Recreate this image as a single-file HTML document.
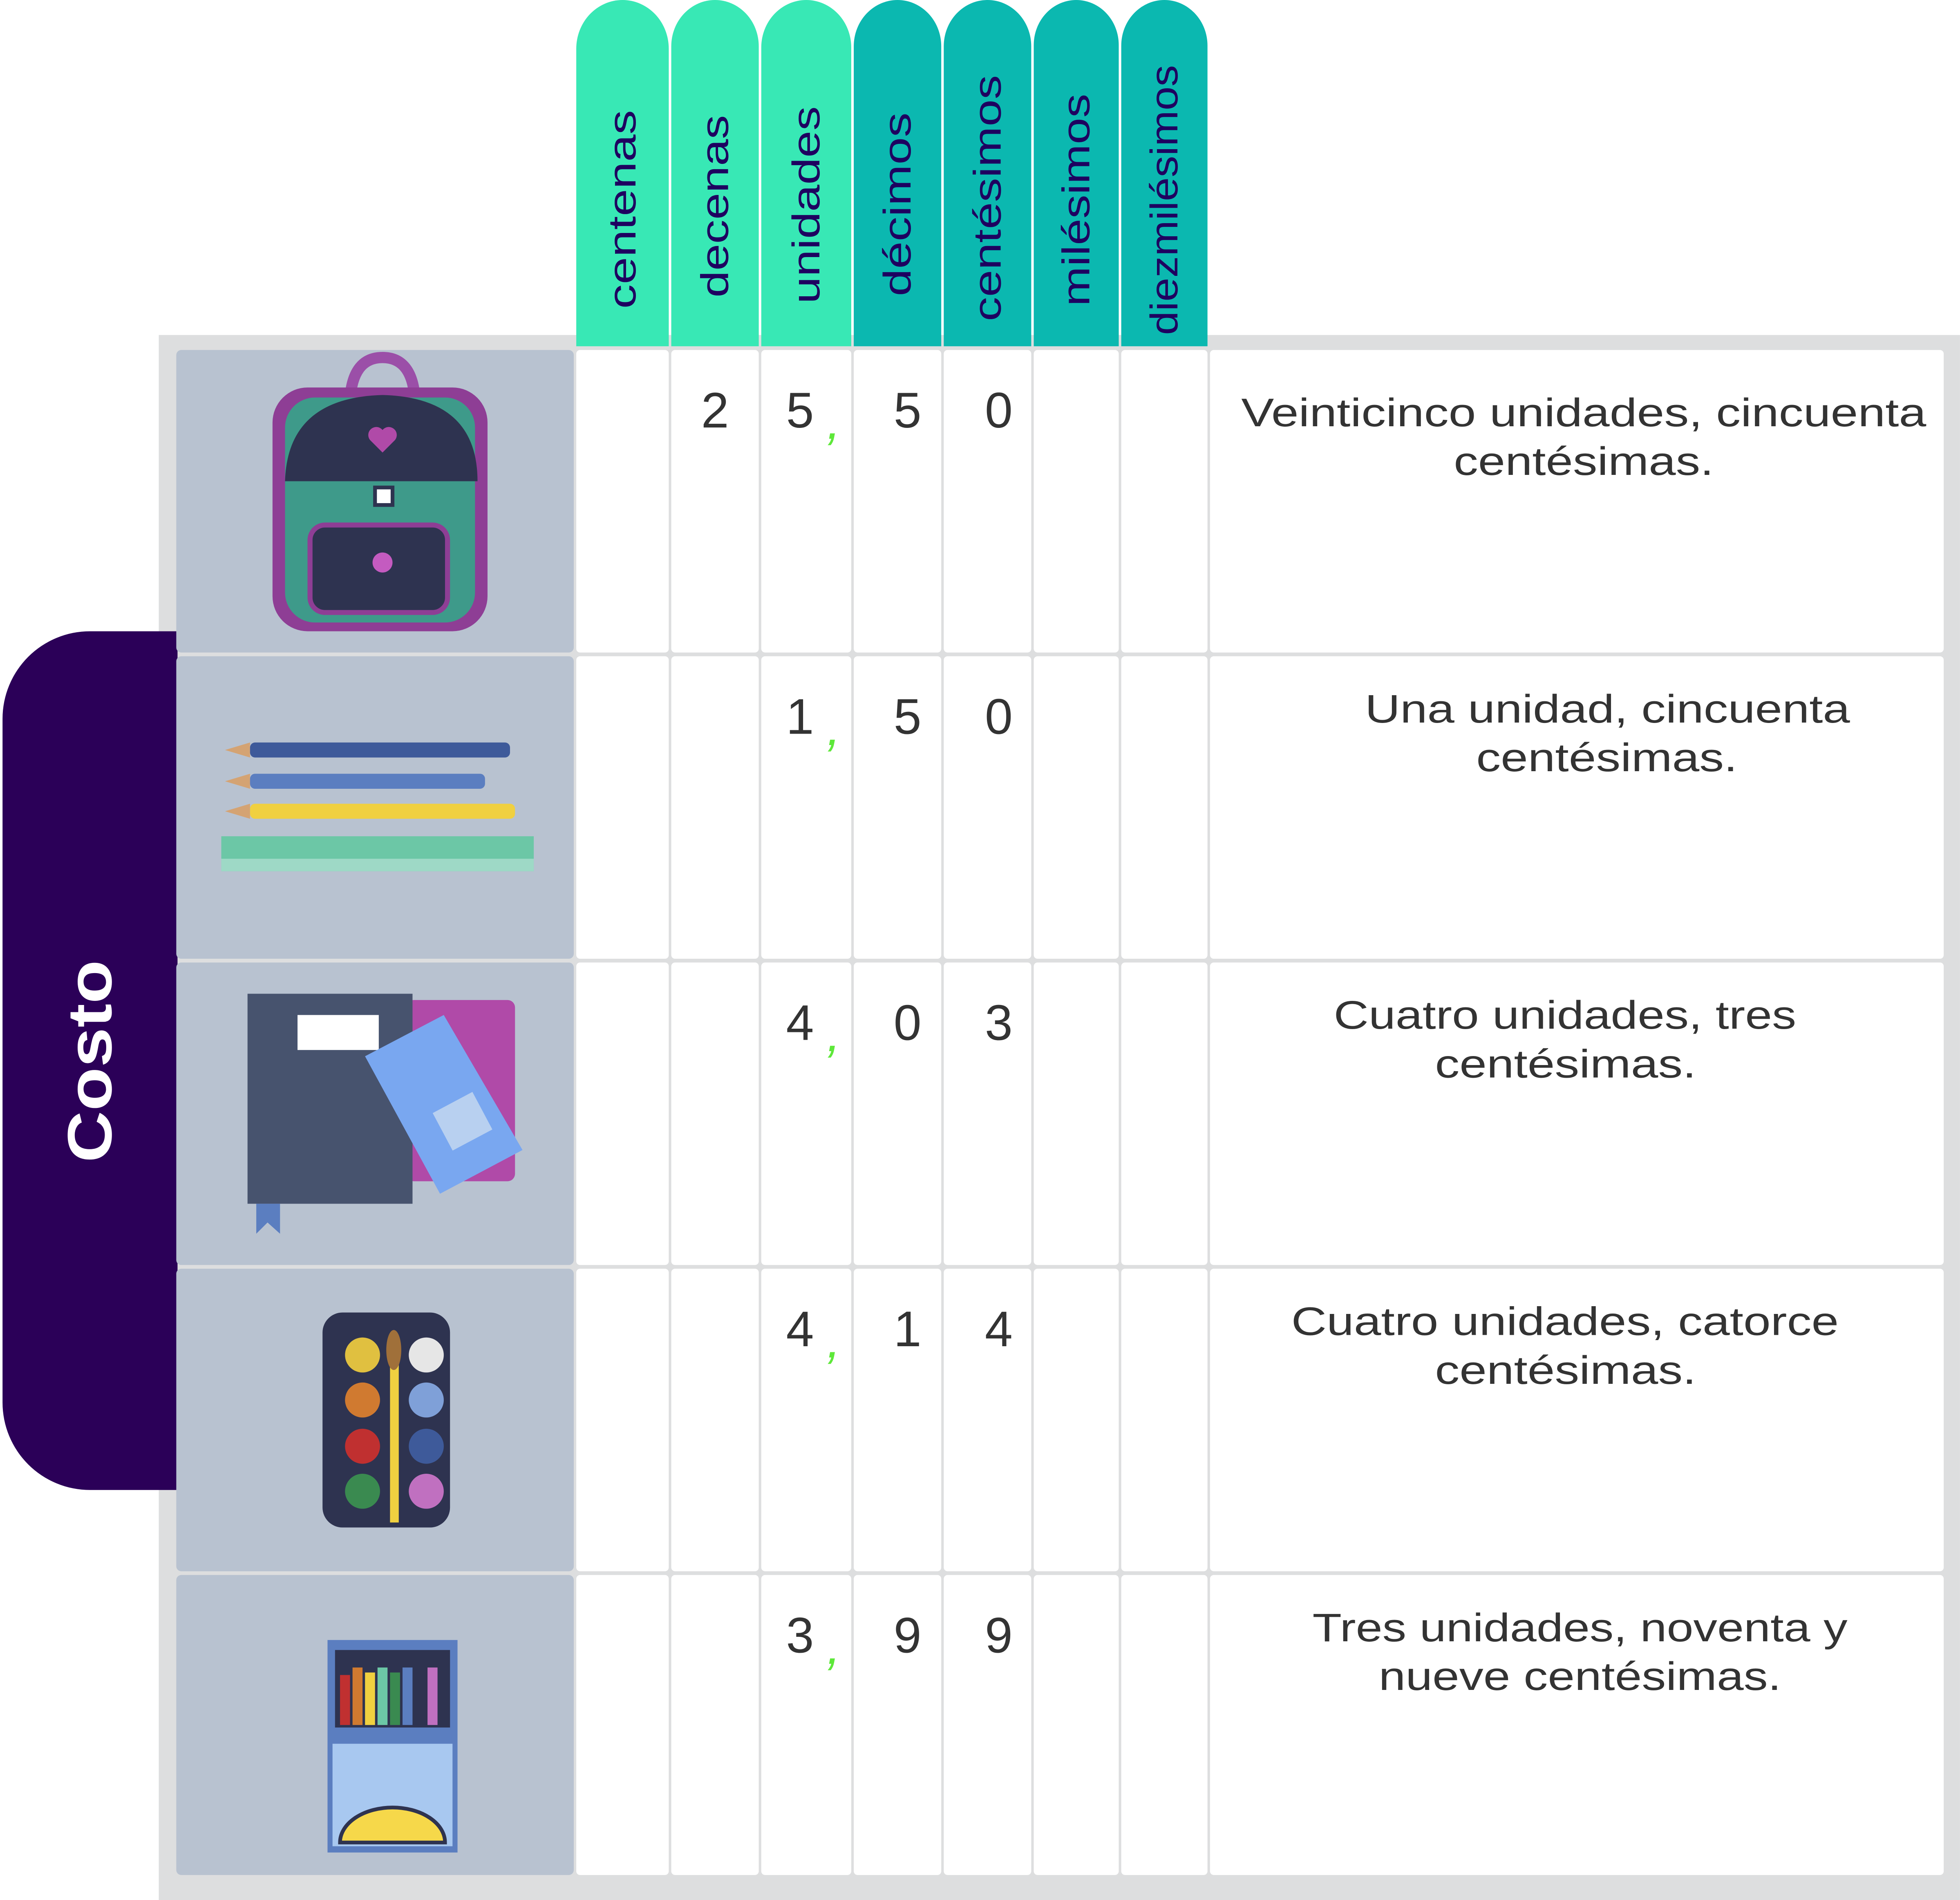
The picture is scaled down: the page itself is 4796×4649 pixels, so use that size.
<!DOCTYPE html>
<html><head><meta charset="utf-8"><style>
html,body{margin:0;padding:0;background:#fff;width:4796px;height:4649px;overflow:hidden}
svg{display:block}
text{font-family:"Liberation Sans","DejaVu Sans",sans-serif}
</style></head><body>
<svg id="s" width="4796" height="4649" viewBox="0 0 1568 1520" xmlns="http://www.w3.org/2000/svg">
<rect x="127" y="268" width="1441" height="1252" fill="#DDDEDF"/>
<path d="M142 505 H72 A70 70 0 0 0 2 575 V1122 A70 70 0 0 0 72 1192 H142 Z" fill="#2B0058"/>
<text x="72" y="849" transform="rotate(-90 72 849)" text-anchor="middle" dominant-baseline="central" fill="#fff" font-size="50" font-weight="bold" textLength="162" lengthAdjust="spacingAndGlyphs">Costo</text>
<g id="hdr"></g>
<g id="rows"></g>
<g id="icons">
<g>
<path d="M280 320 Q282 286 306 286 Q330 286 332 320" fill="none" stroke="#9B4FA8" stroke-width="9"/>
<rect x="218" y="310" width="172" height="195" rx="28" fill="#8E3E95"/>
<rect x="228" y="318" width="152" height="180" rx="24" fill="#3E9A8A"/>
<path d="M228 385 Q230 318 306 316 Q382 318 382 385 Z" fill="#2E3350"/>
<rect x="248" y="420" width="110" height="70" rx="12" fill="#2E3350" stroke="#8E3E95" stroke-width="4"/>
<path d="M296 352 l10 10 l10 -10 a6 6 0 0 0 -10 -8 a6 6 0 0 0 -10 8z" fill="#B04AA8"/>
<rect x="300" y="390" width="14" height="14" fill="#fff" stroke="#2E3350" stroke-width="3"/>
<circle cx="306" cy="450" r="8" fill="#C45BC0"/>
</g>
<g>
<polygon points="180,600 200,594 200,606" fill="#D4A373"/><rect x="200" y="594" width="208" height="12" rx="4" fill="#3E5A9A"/>
<polygon points="180,625 200,619 200,631" fill="#D4A373"/><rect x="200" y="619" width="188" height="12" rx="4" fill="#5B7EC0"/>
<polygon points="180,649 200,643 200,655" fill="#D4A373"/><rect x="200" y="643" width="212" height="12" rx="4" fill="#F0D040"/>
<rect x="177" y="669" width="250" height="28" fill="#6CC7A6"/><rect x="177" y="687" width="250" height="10" fill="#9ED9C6"/>
</g>
<g>
<rect x="325" y="800" width="87" height="145" rx="6" fill="#B04AA8"/>
<rect x="198" y="795" width="132" height="168" fill="#47536E"/>
<rect x="238" y="812" width="65" height="28" fill="#fff"/>
<polygon points="205,963 224,963 224,987 214,978 205,987" fill="#5B7EC0"/>
<polygon points="292,845 355,812 418,920 352,955" fill="#79A7F0"/>
<rect x="352" y="880" width="36" height="34" fill="#B8D0F0" transform="rotate(-28 370 897)"/>
</g>
<g>
<rect x="258" y="1050" width="102" height="172" rx="16" fill="#2E3350"/>
<circle cx="290" cy="1084" r="14" fill="#E0C040"/><circle cx="341" cy="1084" r="14" fill="#E6E6E6"/>
<circle cx="290" cy="1120" r="14" fill="#D07A30"/><circle cx="341" cy="1120" r="14" fill="#7FA0D8"/>
<circle cx="290" cy="1157" r="14" fill="#C03030"/><circle cx="341" cy="1157" r="14" fill="#3E5A9A"/>
<circle cx="290" cy="1193" r="14" fill="#3A8A50"/><circle cx="341" cy="1193" r="14" fill="#C070C0"/>
<rect x="312" y="1090" width="7" height="128" fill="#F0D040"/><ellipse cx="315" cy="1080" rx="6" ry="16" fill="#A0703A"/>
</g>
<g>
<rect x="262" y="1312" width="104" height="170" fill="#5B7EC0"/>
<rect x="266" y="1395" width="96" height="82" fill="#A8C8F0"/>
<rect x="268" y="1320" width="92" height="62" fill="#2E3350"/>
<rect x="272" y="1340" width="8" height="40" fill="#C03030"/><rect x="282" y="1334" width="8" height="46" fill="#D07A30"/><rect x="292" y="1338" width="8" height="42" fill="#F0D040"/><rect x="302" y="1334" width="8" height="46" fill="#6CC7A6"/><rect x="312" y="1338" width="8" height="42" fill="#3A8A50"/><rect x="322" y="1334" width="8" height="46" fill="#5B7EC0"/><rect x="332" y="1338" width="8" height="42" fill="#2E3350"/><rect x="342" y="1334" width="8" height="46" fill="#C070C0"/>
<path d="M272 1474 A42 28 0 0 1 356 1474 Z" fill="#F6D84A" stroke="#2E3350" stroke-width="3"/>
</g>
</g>
</svg>
<script>
const headers=["centenas","decenas","unidades","décimos","centésimos","milésimos","diezmilésimos"];
const hdrSpan=[[88,247],[92,238],[85,243],[90,237],[60,257],[75,245],[52,268]];
const colX=[461,537,609,683,755,827,897,968];
const rowY=[280,525,770,1015,1260,1503];
const decenas=["2","","","",""];
const unidades=["5","1","4","4","3"];
const decimos=["5","5","0","1","9"];
const centesimos=["0","0","3","4","9"];
const line1=["Veinticinco unidades, cincuenta","Una unidad, cincuenta","Cuatro unidades, tres","Cuatro unidades, catorce","Tres unidades, noventa y"];
const line2=["centésimas.","centésimas.","centésimas.","centésimas.","nueve centésimas."];
const span1=[[993,1541],[1092,1480],[1067,1437],[1033,1471],[1050,1478]];
const span2=[[1163,1371],[1181,1390],[1148,1357],[1148,1357],[1103,1425]];
const NS="http://www.w3.org/2000/svg";
function mk(t,a,p){const e=document.createElementNS(NS,t);for(const k in a)e.setAttribute(k,a[k]);p.appendChild(e);return e;}
const hdr=document.getElementById('hdr'),rows=document.getElementById('rows'),icons=document.getElementById('icons');
headers.forEach((h,i)=>{
 const x0=colX[i],w=(i<6?colX[i+1]-2:966)-x0,r=w/2;
 const p=mk('path',{d:`M${x0} 277 V${r+2} A${r} ${r+2} 0 0 1 ${x0+w} ${r+2} V277 Z`,fill:i<3?'#38E8B5':'#0BB8B0'},hdr);
 
 
 const cx=x0+w/2,cy=(hdrSpan[i][0]+hdrSpan[i][1])/2;
 const t=mk('text',{x:cx,y:cy,transform:`rotate(-90 ${cx} ${cy})`,'text-anchor':'middle','dominant-baseline':'central',fill:'#1E0060','font-size':31,textLength:hdrSpan[i][1]-hdrSpan[i][0],lengthAdjust:'spacingAndGlyphs'},hdr);
 t.textContent=h;
 
 
});
for(let r=0;r<5;r++){
 const y0=rowY[r],h=rowY[r+1]-y0-3;
 const ic=mk('rect',{x:141,y:y0,width:318,height:h,rx:4,fill:'#B8C2D0'},rows);
 
 
 for(let c=0;c<8;c++){
  const x0=colX[c],x1=c<7?colX[c+1]-2:1555;
  const cell=mk('rect',{x:x0,y:y0,width:x1-x0,height:h,rx:3,fill:'#fff'},rows);
  
  
 }
 const by=y0+63;
 const vals=[[decenas[r],572],[unidades[r],640],[decimos[r],726],[centesimos[r],799]];
 vals.forEach(v=>{if(!v[0])return;
  const t=mk('text',{x:v[1],y:by-1,'text-anchor':'middle',fill:'#333','font-size':40},rows);t.textContent=v[0];
  
  
 });
 const cm=mk('text',{x:667,y:by+8,'text-anchor':'middle',fill:'#5EE83A','font-size':40,'font-style':'italic'},rows);cm.textContent=',';
 
 
 [[line1[r],span1[r]],[line2[r],span2[r]]].forEach((s,k)=>{
  const cx=(s[1][0]+s[1][1])/2;
  const t=mk('text',{x:cx,y:by-2+k*39+(r==0?0:-8),'text-anchor':'middle',fill:'#333','font-size':32,textLength:s[1][1]-s[1][0],lengthAdjust:'spacingAndGlyphs'},rows);t.textContent=s[0];
  
  
 });
}
document.getElementById('s').appendChild(icons);
</script>
</body></html>
